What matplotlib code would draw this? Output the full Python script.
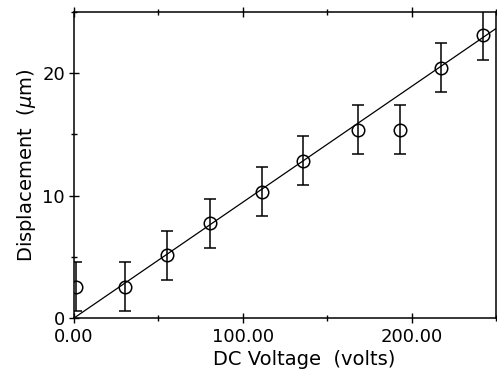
import matplotlib
matplotlib.use("Agg")
import matplotlib.pyplot as plt
import numpy as np
from matplotlib.ticker import MultipleLocator, FixedLocator, FixedFormatter

voltage = [1.2, 30, 55, 80.3, 111.4, 135.5, 168.4, 192.9, 217.6, 242.3]
displacement = [2.55, 2.55, 5.14, 7.73, 10.3, 12.84, 15.4, 15.4, 20.43, 23.1]
errors = [2.0, 2.0, 2.0, 2.0, 2.0, 2.0, 2.0, 2.0, 2.0, 2.0]
fit_x = [0, 250]
fit_y = [0, 23.65]
x_ticks = [0, 100, 200]
x_tick_labels = ["0.00", "100.00", "200.00"]
y_ticks = [0, 10, 20]
y_tick_labels = ["0", "10", "20"]

plt.rcParams['font.family'] = ['DejaVu Sans']
fig = plt.figure(figsize=(4.97, 3.75), dpi=100)
ax = fig.add_axes([0.149, 0.152, 0.849, 0.816])

ax.plot(fit_x, fit_y, color='black', lw=0.9)
ax.errorbar(voltage, displacement, yerr=errors, fmt='o', mfc='none', mec='black',
            ms=9, mew=1.1, ecolor='black', elinewidth=1.1, capsize=4, capthick=1.1)

ax.set_xlim(0, 250)
ax.set_ylim(0, 25)
ax.xaxis.set_major_locator(FixedLocator(x_ticks))
ax.xaxis.set_major_formatter(FixedFormatter(x_tick_labels))
ax.yaxis.set_major_locator(FixedLocator(y_ticks))
ax.yaxis.set_major_formatter(FixedFormatter(y_tick_labels))
ax.xaxis.set_minor_locator(MultipleLocator(50))
ax.yaxis.set_minor_locator(MultipleLocator(5))
ax.tick_params(which='both', direction='inout', labelsize=13, width=1)
ax.tick_params(axis='x', which='major', pad=4)
ax.tick_params(axis='y', which='major', pad=3)
ax.tick_params(which='major', length=7)
ax.tick_params(which='minor', length=5)
ax.tick_params(top=True, right=False, which='both')
for s in ax.spines.values():
    s.set_linewidth(1.1)

ax.set_xlabel('DC Voltage  (volts)', fontsize=14, labelpad=0)
ax.xaxis.set_label_coords(0.545, -0.105)
ax.set_ylabel(r'Displacement  ($\mu$m)', fontsize=14, labelpad=2)
ax.yaxis.set_label_coords(-0.085, 0.5)

fig.savefig('out.png', dpi=100)
